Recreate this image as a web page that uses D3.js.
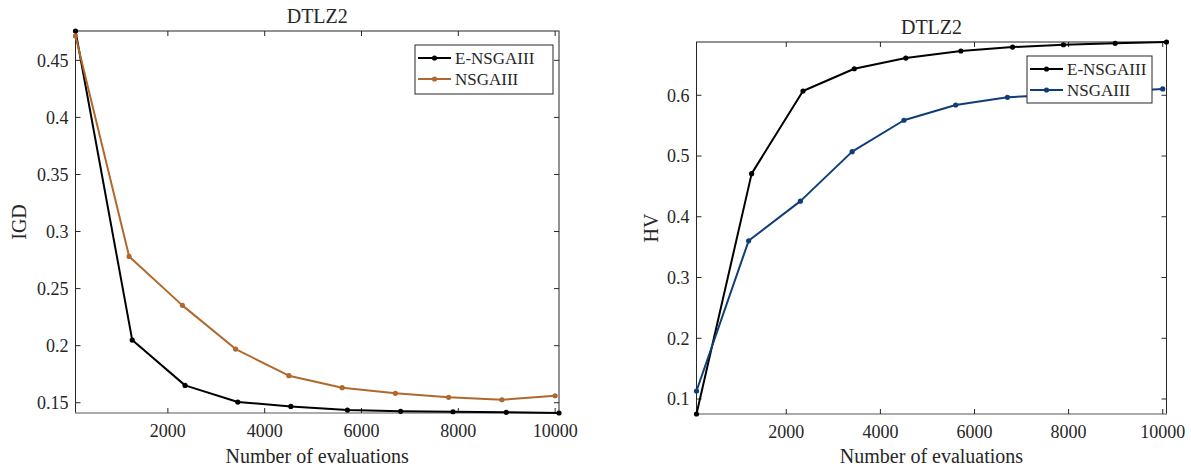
<!DOCTYPE html>
<meta charset="utf-8">
<title>DTLZ2</title>
<style>
body { margin: 0; background: #fff; }
svg text { font-family: "Liberation Serif", "Times New Roman", Times, serif; fill: #262626; }
</style>
<svg></svg>
<script src="https://d3js.org/d3.v7.min.js"></script>
<script>
// evaluations at which each algorithm was sampled
var evalsE = [92, 1264, 2355, 3445, 4540, 5710, 6808, 7890, 8990, 10080];
var evalsN = [92, 1200, 2300, 3400, 4500, 5600, 6700, 7800, 8900, 10000];

var igdE = [0.4757, 0.2049, 0.1652, 0.1506, 0.1468, 0.1436, 0.1425, 0.1421, 0.1416, 0.141];
var igdN = [0.4714, 0.2782, 0.2353, 0.197, 0.1737, 0.1632, 0.1582, 0.1547, 0.1526, 0.1561];

var hvE = [0.0753, 0.471, 0.607, 0.6437, 0.6613, 0.6729, 0.6794, 0.6832, 0.6855, 0.6877];
var hvN = [0.1132, 0.3604, 0.4257, 0.5072, 0.5589, 0.584, 0.5967, 0.601, 0.606, 0.6104];

var names = ["E-NSGAIII", "NSGAIII"];
var xTicks = [2000, 4000, 6000, 8000, 10000];
var igdTicks = [0.15, 0.2, 0.25, 0.3, 0.35, 0.4, 0.45];
var hvTicks = [0.1, 0.2, 0.3, 0.4, 0.5, 0.6];

var width = 1191, height = 470;
var svg = d3.select("svg")
  .attr("width", width)
  .attr("height", height)
  .attr("font-family", "'Liberation Serif', 'Times New Roman', serif");

var fmt = function(d) { return String(+d.toFixed(2)); };

function drawChart(c) {
  var g = svg.append("g");
  var allX = c.series[0].x.concat(c.series[1].x);
  var allY = c.series[0].y.concat(c.series[1].y);

  var x = d3.scaleLinear().domain(d3.extent(allX)).range([c.left, c.right]);
  var y = d3.scaleLinear().domain(d3.extent(allY)).range([c.bottom, c.top]);

  // box
  g.append("rect")
    .attr("x", c.left).attr("y", c.top)
    .attr("width", c.right - c.left).attr("height", c.bottom - c.top)
    .attr("fill", "none").attr("stroke", "#262626").attr("stroke-width", 1);
  g.append("line")
    .attr("x1", c.left).attr("x2", c.right)
    .attr("y1", c.bottom).attr("y2", c.bottom)
    .attr("stroke", "#ababab").attr("stroke-width", 2);

  var tl = 5;
  // x ticks (bottom + top, inward)
  g.selectAll(".xt").data(xTicks).enter().append("path")
    .attr("d", function(d) {
      return "M" + x(d) + "," + c.bottom + "v" + (-tl) + "M" + x(d) + "," + c.top + "v" + tl;
    })
    .attr("stroke", "#262626").attr("stroke-width", 1);
  g.selectAll(".xl").data(xTicks).enter().append("text")
    .attr("x", function(d) { return x(d); })
    .attr("y", c.bottom + 24)
    .attr("text-anchor", "middle")
    .attr("font-size", 18)
    .text(function(d) { return d; });

  // y ticks (left + right, inward)
  g.selectAll(".yt").data(c.yTicks).enter().append("path")
    .attr("d", function(d) {
      return "M" + c.left + "," + y(d) + "h" + tl + "M" + c.right + "," + y(d) + "h" + (-tl);
    })
    .attr("stroke", "#262626").attr("stroke-width", 1);
  g.selectAll(".yl").data(c.yTicks).enter().append("text")
    .attr("x", c.left - 7)
    .attr("y", function(d) { return y(d); })
    .attr("dy", "0.35em")
    .attr("text-anchor", "end")
    .attr("font-size", 18)
    .text(fmt);

  // title + axis labels
  g.append("text")
    .attr("x", (c.left + c.right) / 2).attr("y", c.top - 8)
    .attr("text-anchor", "middle").attr("font-size", 20)
    .text(c.title);
  g.append("text")
    .attr("x", (c.left + c.right) / 2).attr("y", 463)
    .attr("text-anchor", "middle").attr("font-size", 20)
    .text("Number of evaluations");
  g.append("text")
    .attr("transform", "translate(" + c.ylabelX + "," + (c.top + c.bottom) / 2 + ") rotate(-90)")
    .attr("text-anchor", "middle").attr("font-size", 20)
    .text(c.ylabel);

  // lines
  var line = d3.line()
    .x(function(d) { return x(d[0]); })
    .y(function(d) { return y(d[1]); });

  c.series.forEach(function(s) {
    var pts = d3.zip(s.x, s.y);
    g.append("path")
      .datum(pts)
      .attr("d", line)
      .attr("fill", "none")
      .attr("stroke", s.color)
      .attr("stroke-width", 2)
      .attr("stroke-linejoin", "round");
    g.selectAll(null).data(pts).enter().append("circle")
      .attr("cx", function(d) { return x(d[0]); })
      .attr("cy", function(d) { return y(d[1]); })
      .attr("r", 2.6)
      .attr("fill", s.color);
  });

  // legend
  var L = c.legend;
  var lg = g.append("g").attr("transform", "translate(" + L.x + "," + L.y + ")");
  lg.append("rect")
    .attr("width", L.w).attr("height", L.h)
    .attr("fill", "#fff").attr("stroke", "#262626").attr("stroke-width", 1);
  var rows = lg.selectAll(".row").data(c.series).enter().append("g")
    .attr("transform", function(d, i) { return "translate(0," + (13 + i * 21) + ")"; });
  rows.append("line")
    .attr("x1", 3).attr("x2", 36).attr("y1", 0).attr("y2", 0)
    .attr("stroke", function(d) { return d.color; }).attr("stroke-width", 2);
  rows.append("circle")
    .attr("cx", 19.5).attr("cy", 0).attr("r", 2.6)
    .attr("fill", function(d) { return d.color; });
  rows.append("text")
    .attr("x", 40).attr("y", 0).attr("dy", "0.35em")
    .attr("font-size", 17)
    .text(function(d) { return d.name; });
}

drawChart({
  left: 75.5, right: 559, top: 31, bottom: 413,
  title: "DTLZ2", ylabel: "IGD", ylabelX: 26,
  yTicks: igdTicks,
  legend: { x: 415, y: 45, w: 138, h: 49 },
  series: [
    { name: names[0], x: evalsE, y: igdE, color: "#000000" },
    { name: names[1], x: evalsN, y: igdN, color: "#B0682C" }
  ]
});

drawChart({
  left: 696.5, right: 1166.5, top: 42, bottom: 414,
  title: "DTLZ2", ylabel: "HV", ylabelX: 658,
  yTicks: hvTicks,
  legend: { x: 1027, y: 56, w: 125, h: 47 },
  series: [
    { name: names[0], x: evalsE, y: hvE, color: "#000000" },
    { name: names[1], x: evalsN, y: hvN, color: "#0F3D7A" }
  ]
});
</script>
